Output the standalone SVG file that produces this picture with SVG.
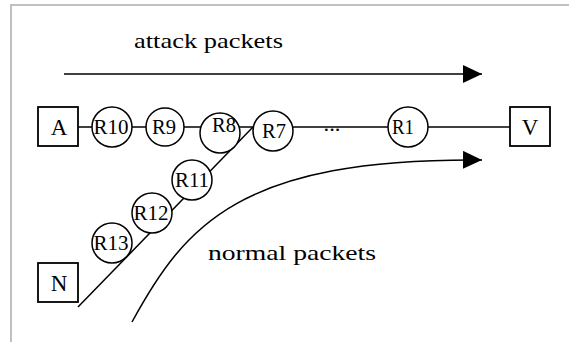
<svg xmlns="http://www.w3.org/2000/svg" width="569" height="342" viewBox="0 0 569 342">
<style>
.box{fill:#fff;stroke:#000;stroke-width:1.8}
.rt{fill:#fff;stroke:#000;stroke-width:1.5}
.ln{fill:none;stroke:#000;stroke-width:1.5}
.lb{font-family:"Liberation Serif","DejaVu Serif",serif;font-size:21px;fill:#000;text-anchor:middle}
.big{font-size:23px}
.tx{font-family:"Liberation Serif","DejaVu Serif",serif;font-size:22px;fill:#000}
</style>
<defs>
<marker id="ah" markerWidth="19" markerHeight="18" refX="19" refY="9" orient="auto" markerUnits="userSpaceOnUse">
<path d="M0,0 L19,9 L0,18 Z" fill="#000"/>
</marker>
</defs>
<rect width="569" height="342" fill="#fff"/>
<path d="M11,342 V5 H569" fill="none" stroke="#c0c0c0" stroke-width="2"/>
<text class="tx" x="134" y="48" textLength="149" lengthAdjust="spacingAndGlyphs">attack packets</text>
<text class="tx" x="208" y="260" textLength="168" lengthAdjust="spacingAndGlyphs">normal packets</text>
<g id="connectors">
<line class="ln" x1="64" y1="74" x2="482" y2="74" marker-end="url(#ah)"/>
<line class="ln" x1="78" y1="127" x2="510" y2="127"/>
<line class="ln" x1="78" y1="307" x2="253" y2="127"/>
<path class="ln" d="M132,322 C185,225 240,158 482,160" marker-end="url(#ah)"/>
</g>
<g id="A"><rect class="box" x="38" y="107" width="40" height="39"/><text class="lb big" x="59" y="135">A</text></g>
<g id="V"><rect class="box" x="510" y="107" width="40" height="39"/><text class="lb big" x="530" y="135">V</text></g>
<g id="N"><rect class="box" x="38" y="263" width="40" height="39"/><text class="lb big" x="59" y="291">N</text></g>
<g id="R10"><circle class="rt" cx="112" cy="127" r="20"/><text class="lb" x="111" y="134" textLength="35" lengthAdjust="spacingAndGlyphs">R10</text></g>
<g id="R9"><circle class="rt" cx="165" cy="127" r="19"/><text class="lb" x="164" y="134" textLength="24" lengthAdjust="spacingAndGlyphs">R9</text></g>
<g id="R8"><circle class="rt" cx="220" cy="133" r="20"/><text class="lb" x="224" y="132" textLength="24" lengthAdjust="spacingAndGlyphs">R8</text></g>
<g id="R7"><circle class="rt" cx="273" cy="131" r="20"/><text class="lb" x="274" y="138" textLength="24" lengthAdjust="spacingAndGlyphs">R7</text></g>
<g id="R1"><circle class="rt" cx="408" cy="127" r="20"/><text class="lb" x="403" y="134" textLength="22" lengthAdjust="spacingAndGlyphs">R1</text></g>
<g id="R11"><circle class="rt" cx="192" cy="180" r="20"/><text class="lb" x="192" y="187" textLength="34" lengthAdjust="spacingAndGlyphs">R11</text></g>
<g id="R12"><circle class="rt" cx="152" cy="213" r="20"/><text class="lb" x="151" y="220" textLength="35" lengthAdjust="spacingAndGlyphs">R12</text></g>
<g id="R13"><circle class="rt" cx="112" cy="243" r="20"/><text class="lb" x="111" y="250" textLength="35" lengthAdjust="spacingAndGlyphs">R13</text></g>
<text class="lb" x="332" y="131" style="font-size:22px" textLength="17" lengthAdjust="spacingAndGlyphs">...</text>
</svg>
